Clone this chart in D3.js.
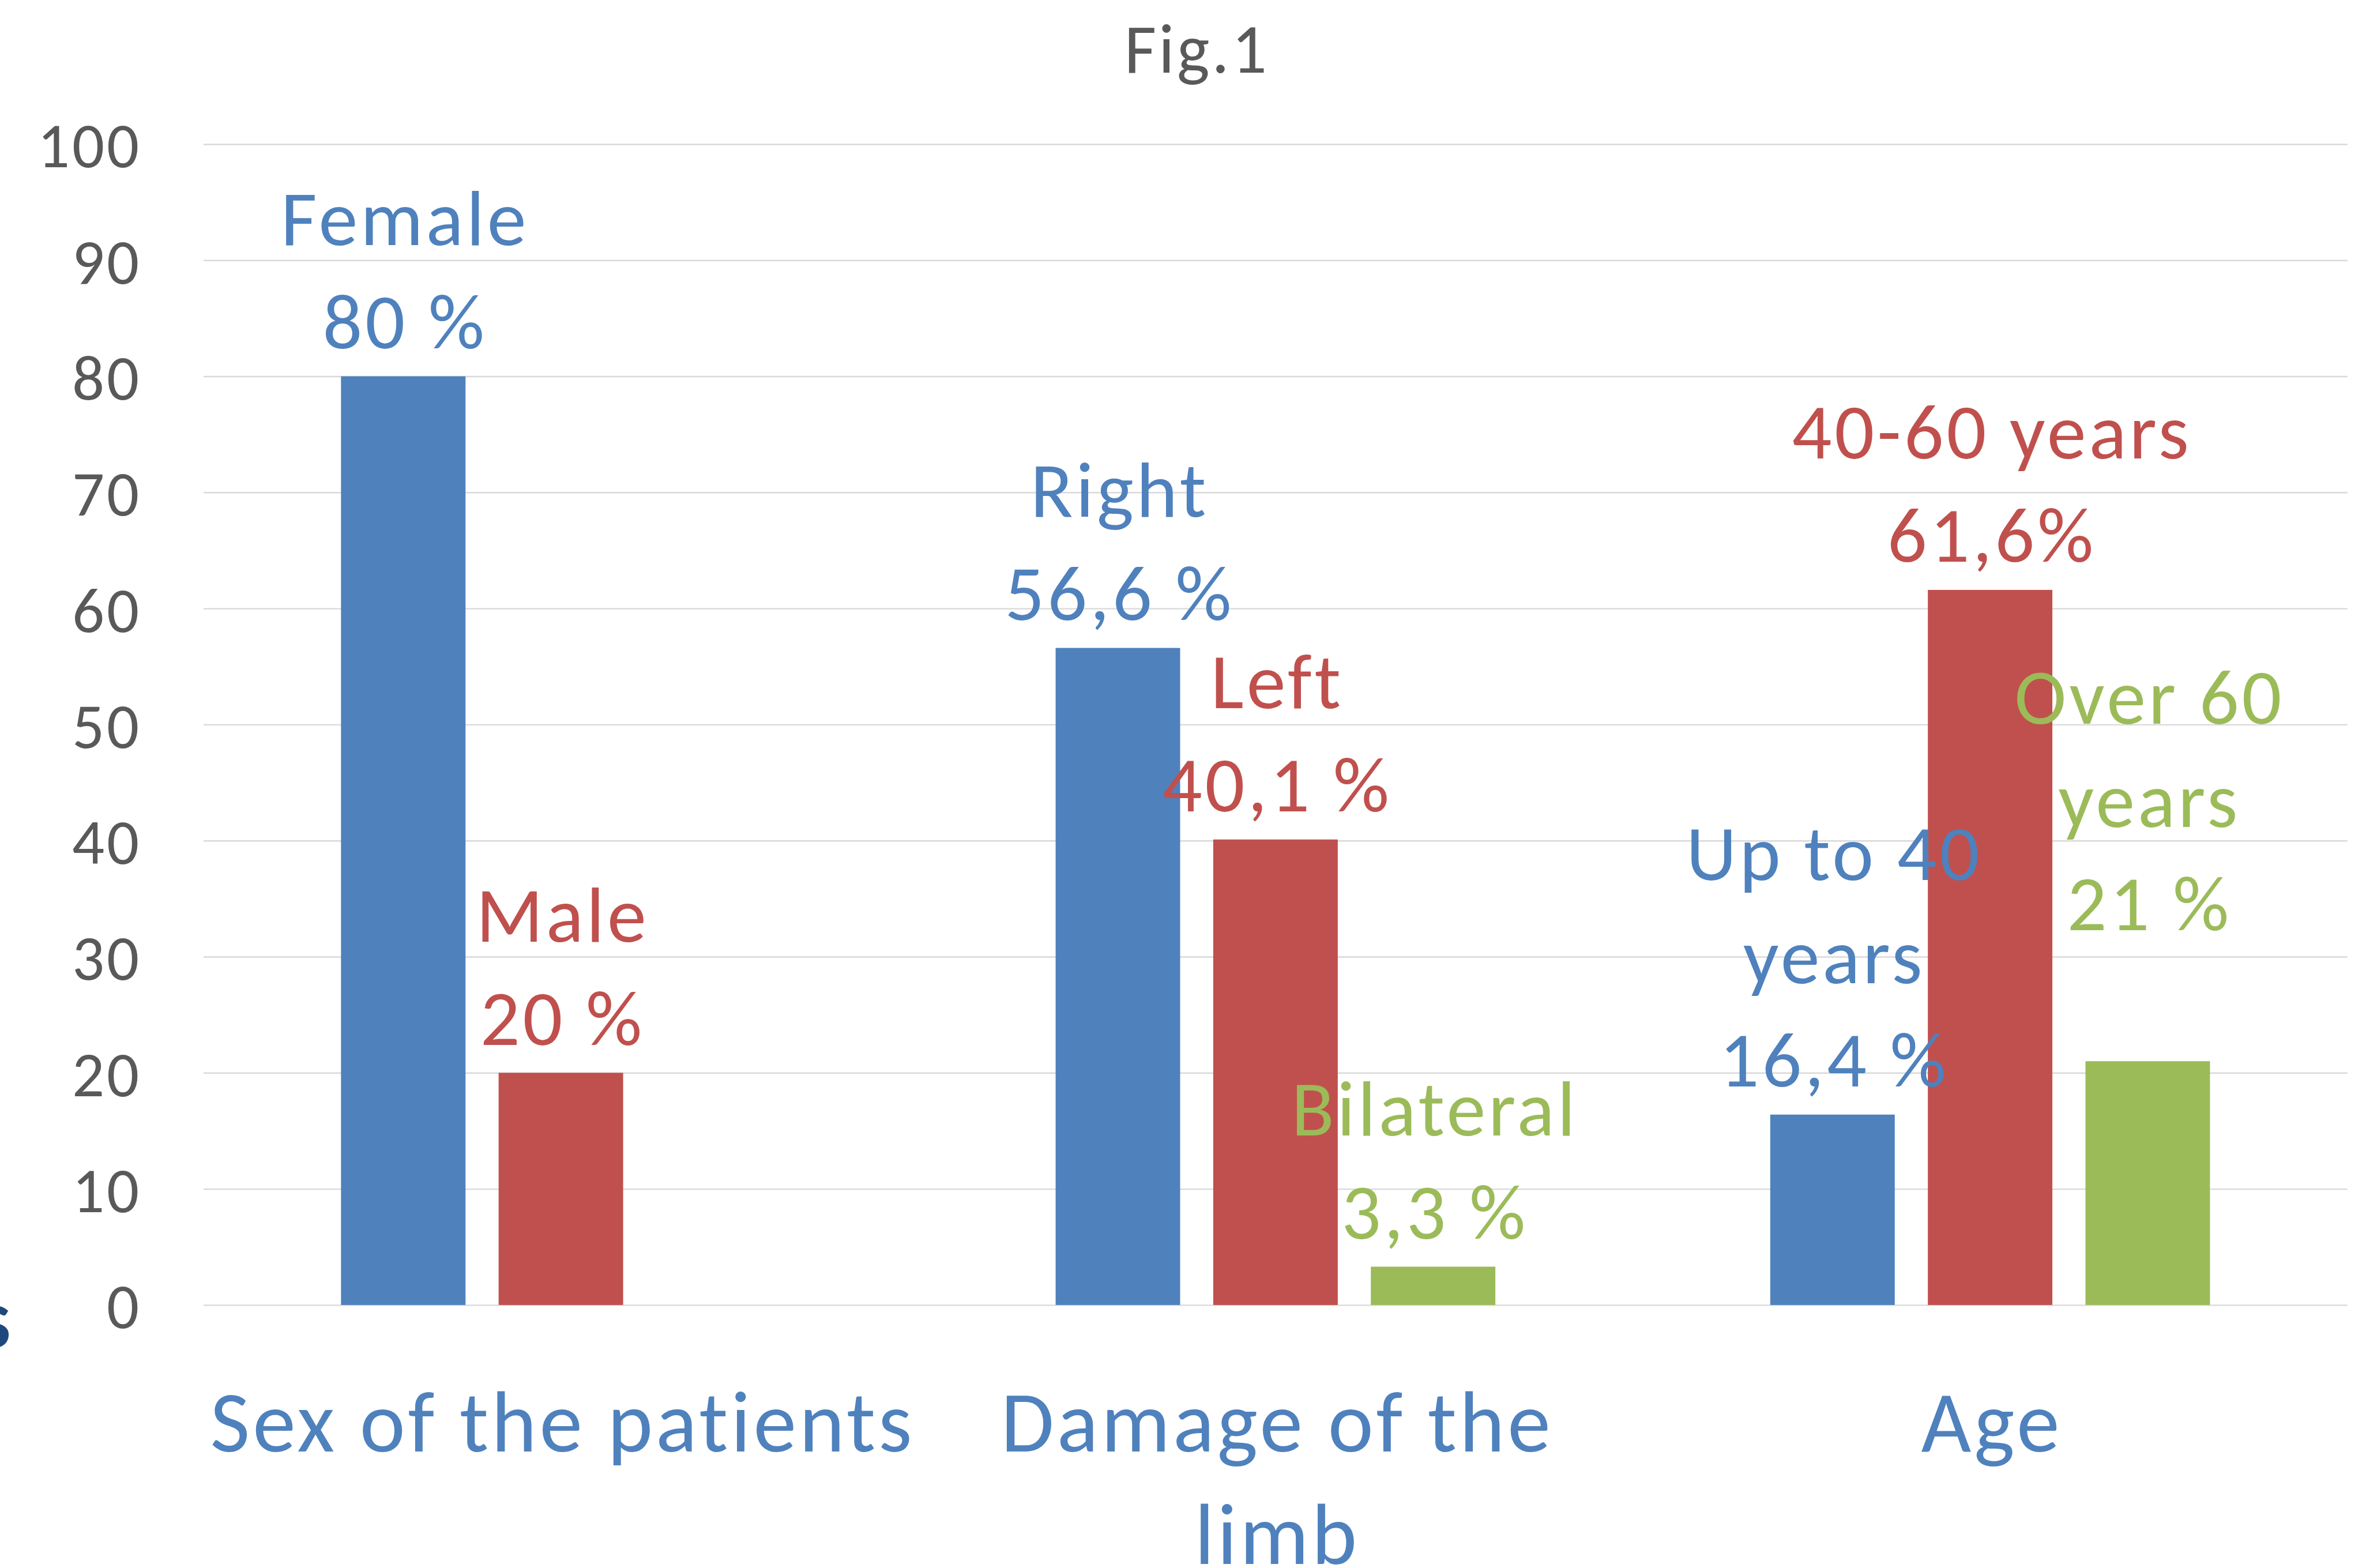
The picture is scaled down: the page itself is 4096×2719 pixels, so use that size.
<!DOCTYPE html>
<html lang="en">
<head>
    <meta charset="UTF-8">
    <title>Fig.1</title>
    <style>
        html, body { margin: 0; padding: 0; background: #fff; }
        svg { display: block; }
        .tick-label { font-family: Carlito, Lato, sans-serif; fill: #595959; letter-spacing: 4px; }
        .grid line { stroke: #d9d9d9; stroke-width: 2.5px; }
        .data-label { font-family: Carlito, Lato, sans-serif; text-anchor: middle; letter-spacing: 5px; }
        .cat-label { font-family: Carlito, Lato, sans-serif; text-anchor: middle; fill: #4f81bd; letter-spacing: 5px; }
    </style>
</head>
<body>
    <svg id="chart" width="4096" height="2719" viewBox="0 0 4212 2796"></svg>

    <script src="https://d3js.org/d3.v7.min.js"></script>
    <script>
        // --- Data ---
        const categories = ["Sex of the patients", "Damage of the limb", "Age"];
        const categoryLines = [["Sex of the patients"], ["Damage of the", "limb"], ["Age"]];

        const blueValues = [80, 56.6, 16.4];
        const redValues = [20, 40.1, 61.6];
        const greenValues = [null, 3.3, 21];

        const blueLabels = [["Female", "80 %"], ["Right", "56,6 %"], ["Up to 40", "years", "16,4 %"]];
        const redLabels = [["Male", "20 %"], ["Left", "40,1 %"], ["40-60 years", "61,6%"]];
        const greenLabels = [null, ["Bilateral", "3,3 %"], ["Over 60", "years", "21 %"]];

        const yTicks = [0, 10, 20, 30, 40, 50, 60, 70, 80, 90, 100];

        const seriesColors = ["#4f81bd", "#c0504d", "#9bbb59"];
        const seriesValues = [blueValues, redValues, greenValues];
        const seriesLabels = [blueLabels, redLabels, greenLabels];

        // --- Layout (reference pixel units, svg viewBox scales by 0.972) ---
        const W = 4212, H = 2796;
        const margin = { top: 257, right: 26, bottom: 469, left: 363 };
        const labelLine = 184;      // line spacing of data labels
        const labelGap = 50;        // gap between label baseline and bar top

        const svg = d3.select("#chart");
        svg.append("rect").attr("width", W).attr("height", H).attr("fill", "#fff");

        const x0 = d3.scaleBand()
            .domain(categories)
            .range([margin.left, W - margin.right]);

        const x1 = d3.scaleBand()
            .domain(d3.range(seriesColors.length))
            .range([0, x0.bandwidth()])
            .paddingInner(0.21)
            .paddingOuter(0.872);

        const y = d3.scaleLinear()
            .domain([0, 100])
            .range([H - margin.bottom, margin.top]);

        // gridlines + y tick labels
        const yAxis = d3.axisLeft(y)
            .tickValues(yTicks)
            .tickSize(-(W - margin.left - margin.right))
            .tickPadding(111);

        const gy = svg.append("g")
            .attr("class", "grid")
            .attr("transform", `translate(${margin.left},0)`)
            .call(yAxis);
        gy.select(".domain").remove();
        gy.selectAll("text")
            .attr("class", "tick-label")
            .attr("font-size", 114)
            .attr("dy", "0.36em");

        // title
        svg.append("text")
            .attr("x", 2134)
            .attr("y", 130)
            .attr("text-anchor", "middle")
            .attr("class", "tick-label")
            .attr("font-size", 124)
            .text("Fig.1");

        // bars
        const barData = [];
        seriesValues.forEach((vals, s) => {
            vals.forEach((v, c) => {
                if (v !== null) barData.push({ s, c, v, lines: seriesLabels[s][c] });
            });
        });

        svg.append("g").selectAll("rect")
            .data(barData)
            .enter().append("rect")
            .attr("x", d => x0(categories[d.c]) + x1(d.s))
            .attr("width", x1.bandwidth())
            .attr("y", d => y(d.v))
            .attr("height", d => y(0) - y(d.v))
            .attr("fill", d => seriesColors[d.s]);

        // data labels (the "Over 60" label sits one line higher in the original)
        const lifted = (d) => (d.s === 2 && d.c === 2) ? labelLine : 0;
        const labelX = (d) => x0(categories[d.c]) + x1(d.s) + x1.bandwidth() / 2 + 3;

        const labels = svg.append("g").selectAll("text")
            .data(barData)
            .enter().append("text")
            .attr("class", "data-label")
            .attr("font-size", 140)
            .attr("fill", d => seriesColors[d.s])
            .attr("x", labelX)
            .attr("y", d => y(d.v) - labelGap - lifted(d) - (d.lines.length - 1) * labelLine);

        labels.selectAll("tspan")
            .data(d => d.lines.map((t, i) => ({ t, i, x: labelX(d) })))
            .enter().append("tspan")
            .attr("x", t => t.x)
            .attr("dy", t => t.i === 0 ? 0 : labelLine)
            .text(t => t.t);

        // category labels
        const cats = svg.append("g").selectAll("text")
            .data(categories)
            .enter().append("text")
            .attr("class", "cat-label")
            .attr("font-size", 154)
            .attr("x", d => x0(d) + x0.bandwidth() / 2 + 3)
            .attr("y", 2588);

        cats.selectAll("tspan")
            .data((d, i) => categoryLines[i].map((t, k) => ({ t, k, x: x0(d) + x0.bandwidth() / 2 + 3 })))
            .enter().append("tspan")
            .attr("x", t => t.x)
            .attr("dy", t => t.k === 0 ? 0 : 201)
            .text(t => t.t);

        // cut-off glyph at the left edge of the original slide
        svg.append("text")
            .attr("x", 20)
            .attr("y", 2403)
            .attr("text-anchor", "end")
            .attr("font-family", "Lato, sans-serif")
            .attr("font-weight", "bold")
            .attr("font-size", 144)
            .attr("fill", "#1f497d")
            .text("s");
    </script>
</body>
</html>
